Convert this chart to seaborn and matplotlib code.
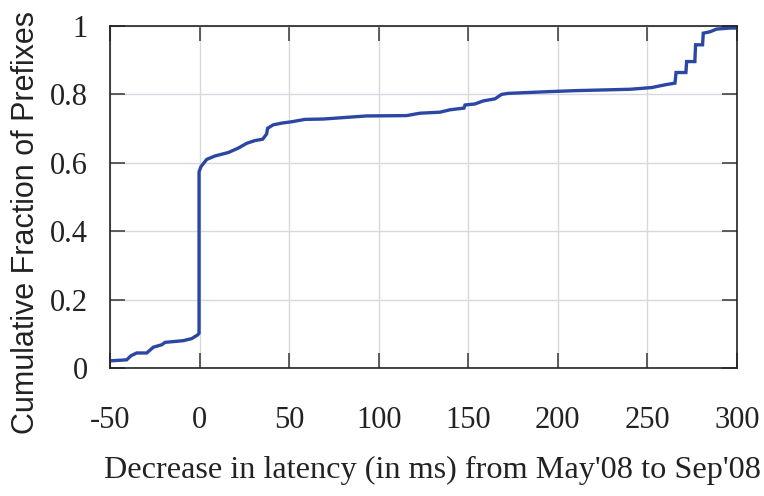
import matplotlib
matplotlib.use("Agg")
import matplotlib.pyplot as plt
import seaborn as sns
import pandas as pd

# Data (latency decrease in ms, cumulative fraction)
latency_ms = [-50, -40.7, -38.3, -35.1, -29.5, -25.8, -21.1, -19.3, -9.1, -4.4, -1.0,
              -0.3, -0.3, 0.8, 4.0, 8.6, 16.0, 21.6, 26.3, 30.9, 35.2, 37.4, 38.0,
              41.1, 45.8, 51.4, 58.9, 69.1, 93.2, 115.5, 123.0, 134.2, 139.8, 147.6,
              148.2, 153.7, 158.4, 164.9, 168.6, 172.3, 194.7, 210.0, 240.3, 252.4,
              259.8, 265.4, 266.0, 271.5, 271.9, 276.5, 276.9, 280.8, 281.2, 284.9,
              288.7, 296.1, 300]
cum_fraction = [0.021, 0.024, 0.036, 0.044, 0.044, 0.061, 0.068, 0.075, 0.080, 0.086,
                0.097, 0.102, 0.574, 0.589, 0.610, 0.620, 0.630, 0.643, 0.657, 0.665,
                0.669, 0.684, 0.701, 0.711, 0.716, 0.720, 0.727, 0.728, 0.737, 0.738,
                0.745, 0.748, 0.755, 0.760, 0.769, 0.772, 0.781, 0.787, 0.800, 0.803,
                0.808, 0.811, 0.815, 0.820, 0.828, 0.833, 0.864, 0.864, 0.896, 0.896,
                0.945, 0.945, 0.979, 0.983, 0.991, 0.994, 0.994]
x_ticks = [-50, 0, 50, 100, 150, 200, 250, 300]
x_tick_labels = ["-50", "0", "50", "100", "150", "200", "250", "300"]
y_ticks = [0, 0.2, 0.4, 0.6, 0.8, 1.0]
y_tick_labels = ["0", "0.2", "0.4", "0.6", "0.8", "1"]

df = pd.DataFrame({"latency": latency_ms, "frac": cum_fraction})

sns.set_theme(style="white")
fig = plt.figure(figsize=(7.64, 4.96), dpi=100)
ax = fig.add_axes([0.144, 0.258, 0.8206, 0.6896])

sns.lineplot(data=df, x="latency", y="frac", ax=ax, color="#2b47a3",
             linewidth=2.4, estimator=None, sort=False)
ax.lines[0].set_solid_joinstyle("miter")

ax.set_xlim(-50, 300)
ax.set_ylim(0, 1)
ax.set_xticks(x_ticks)
ax.set_xticklabels(x_tick_labels)
ax.set_yticks(y_ticks)
ax.set_yticklabels(y_tick_labels)
ax.grid(True, color="#d8d8e0", linewidth=1.0)
ax.set_axisbelow(True)
for s in ax.spines.values():
    s.set_visible(True)
    s.set_color("#222222")
    s.set_linewidth(1.2)

serif = ["Liberation Serif", "DejaVu Serif"]
ax.tick_params(direction="in", length=11, width=1.2, color="#444444",
               top=True, right=True, bottom=True, left=True)
ax.tick_params(axis="x", pad=27)
ax.tick_params(axis="y", pad=16)
for lab in ax.get_xticklabels() + ax.get_yticklabels():
    lab.set_family(serif)
    lab.set_fontsize(22)
    lab.set_color("#222222")

ax.set_xlabel("Decrease in latency (in ms) from May'08 to Sep'08",
              family=serif, fontsize=23.2, color="#222222")
ax.xaxis.set_label_coords(0.5136, -0.258)
ax.set_ylabel("Cumulative Fraction of Prefixes",
              family=["Liberation Sans", "DejaVu Sans"], fontsize=22,
              color="#222222")
ax.yaxis.set_label_coords(-0.11, 0.4245)

fig.savefig("out.png", dpi=100)
